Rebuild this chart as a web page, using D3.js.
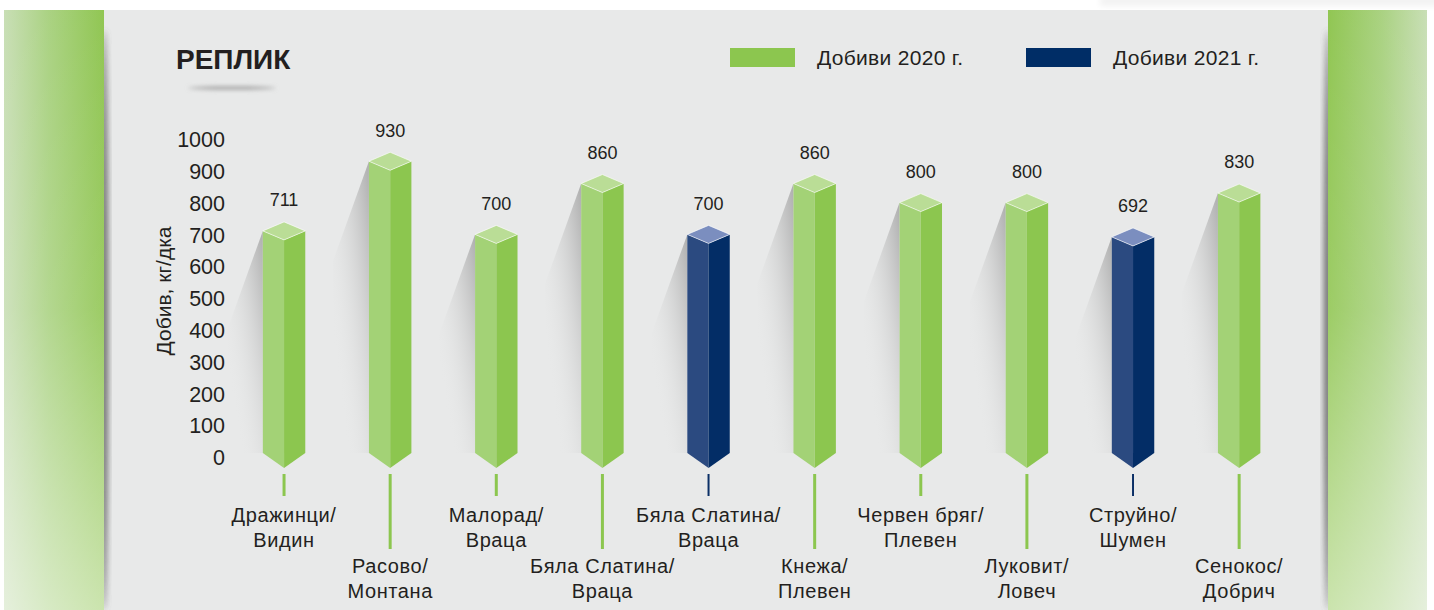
<!DOCTYPE html>
<html><head><meta charset="utf-8">
<script src="https://cdn.jsdelivr.net/npm/d3@7"></script>
<style>html,body{margin:0;padding:0;background:#fff;}svg{display:block;font-family:"Liberation Sans",Arial,sans-serif;}</style>
</head><body>
<script>
const categories = ["Дражинци/Видин","Расово/Монтана","Малорад/Враца","Бяла Слатина/Враца","Бяла Слатина/Враца","Кнежа/Плевен","Червен бряг/Плевен","Луковит/Ловеч","Струйно/Шумен","Сенокос/Добрич"];
const values = [711,930,700,860,700,860,800,800,692,830];
const years = [2020,2020,2020,2020,2021,2020,2020,2020,2021,2020];
const yTicks = [0,100,200,300,400,500,600,700,800,900,1000];
const legendLabels = ["Добиви 2020 г.","Добиви 2021 г."];
const title = "РЕПЛИК";
const yTitle = "Добив, кг/дка";

const W = 1434, H = 610;
const svg = d3.select("body").append("svg").attr("width", W).attr("height", H);
const defs = svg.append("defs");

const pal = {
  2020: {left:"#a3d276", right:"#8cc64f", top:"#badd96", line:"#8cc64f"},
  2021: {left:"#2b4a80", right:"#032d66", top:"#7b8ebf", line:"#0b2f66"}
};

function lg(id, x1,y1,x2,y2, stops){
  const g = defs.append("linearGradient").attr("id",id).attr("x1",x1).attr("y1",y1).attr("x2",x2).attr("y2",y2);
  stops.forEach(s=>g.append("stop").attr("offset",s[0]).attr("stop-color",s[1]).attr("stop-opacity",s[2]===undefined?1:s[2]));
}
lg("gLeft",1,0,0,0,[[0,"#8bc34a"],[0.55,"#a6d07c"],[1,"#c6ddb2"]]);
lg("gRight",0,0,1,0,[[0,"#8bc34a"],[0.55,"#a6d07c"],[1,"#c6ddb2"]]);
lg("gFade",0,0,0,1,[[0,"#ffffff",0.05],[0.5,"#ffffff",0.15],[1,"#ffffff",0.55]]);
lg("gShadow",1,0,0,1,[[0,"#9a9a9a",0.75],[0.35,"#b5b5b5",0.35],[0.8,"#e8e9e9",0]]);
defs.append("filter").attr("id","blur3").attr("x","-50%").attr("y","-50%").attr("width","200%").attr("height","200%")
  .append("feGaussianBlur").attr("stdDeviation",3);
defs.append("filter").attr("id","blur2").attr("x","-50%").attr("y","-200%").attr("width","200%").attr("height","500%")
  .append("feGaussianBlur").attr("stdDeviation",2);

// background panels
svg.append("rect").attr("x",1100).attr("y",-4).attr("width",340).attr("height",10).attr("fill","#000").attr("opacity",0.05).attr("filter","url(#blur3)");
svg.append("rect").attr("x",104).attr("y",10).attr("width",1224).attr("height",600).attr("fill","#e8e9e9");
svg.append("ellipse").attr("cx",104).attr("cy",320).attr("rx",4).attr("ry",290).attr("fill","#555").attr("opacity",0.85).attr("filter","url(#blur3)");
svg.append("ellipse").attr("cx",1328).attr("cy",320).attr("rx",4).attr("ry",290).attr("fill","#555").attr("opacity",0.85).attr("filter","url(#blur3)");
svg.append("rect").attr("x",4).attr("y",10).attr("width",100).attr("height",600).attr("fill","url(#gLeft)");
svg.append("rect").attr("x",4).attr("y",10).attr("width",100).attr("height",600).attr("fill","url(#gFade)");
svg.append("rect").attr("x",1328).attr("y",10).attr("width",99).attr("height",600).attr("fill","url(#gRight)");
svg.append("rect").attr("x",1328).attr("y",10).attr("width",99).attr("height",600).attr("fill","url(#gFade)");

// title
svg.append("ellipse").attr("cx",232).attr("cy",88).attr("rx",44).attr("ry",1.5).attr("fill","#999").attr("filter","url(#blur2)");
svg.append("text").attr("x",176).attr("y",69).attr("font-size",28).attr("font-weight","bold").attr("fill","#231f20").text(title);

// legend
const legX = [730, 1026];
[2020,2021].forEach((yr,i)=>{
  svg.append("rect").attr("x",legX[i]).attr("y",48).attr("width",65).attr("height",19).attr("fill", i===0?"#8cc64f":"#002d66");
  svg.append("text").attr("x",legX[i]+87).attr("y",58).attr("dy","0.35em").attr("font-size",21).attr("letter-spacing",0.3)
    .attr("fill","#231f20").text(legendLabels[i]);
});

// scales
const x = d3.scaleBand().domain(d3.range(categories.length)).range([241.6,1281.6]).paddingInner(0.6).paddingOuter(0.2);
const y = d3.scaleLinear().domain([0,1000]).range([457,139]);

// y axis
const ax = svg.append("g").attr("transform","translate(225,0)")
  .call(d3.axisLeft(y).tickValues(yTicks).tickSize(0).tickPadding(0).tickFormat(d3.format("d")));
ax.select(".domain").remove();
ax.selectAll("text").attr("font-size",21.5).attr("fill","#231f20").attr("font-family","Liberation Sans, Arial, sans-serif").attr("dy","0.36em");

svg.append("text").attr("transform","translate(171,291) rotate(-90)").attr("text-anchor","middle")
  .attr("font-size",21).attr("fill","#231f20").text(yTitle);

// bars
const baseCorner = 453, baseTip = 468, dz = 9;
const data = values.map((v,i)=>({i, v, yr: years[i], cat: categories[i]}));
const bars = svg.append("g").selectAll("g").data(data).join("g");
bars.each(function(d){
  const g = d3.select(this);
  const cx = x(d.i) + x.bandwidth()/2, w = x.bandwidth()/2, t = y(d.v), c = pal[d.yr];
  const L = cx - w, R = cx + w;
  g.append("polygon").attr("points", [[L,t],[L-36,t+100],[L-36,baseCorner],[L,baseCorner]].join(" ")).attr("fill","url(#gShadow)");
  g.append("polygon").attr("points", [[L,t],[cx,t+dz],[cx,baseTip],[L,baseCorner]].join(" ")).attr("fill",c.left);
  g.append("polygon").attr("points", [[cx,t+dz],[R,t],[R,baseCorner],[cx,baseTip]].join(" ")).attr("fill",c.right);
  g.append("polygon").attr("points", [[cx,t-dz],[L,t],[cx,t+dz],[R,t]].join(" ")).attr("fill",c.top)
    .attr("stroke","#ffffff").attr("stroke-opacity",0.6).attr("stroke-width",1);
  g.append("text").attr("x",cx).attr("y",t-31).attr("dy","0.35em").attr("text-anchor","middle")
    .attr("font-size",18).attr("fill","#231f20").text(d.v);
  const odd = d.i % 2 === 1;
  g.append("line").attr("x1",cx).attr("x2",cx).attr("y1",474).attr("y2", odd?549:496)
    .attr("stroke",c.line).attr("stroke-width", d.yr===2021?2:3);
  const parts = d.cat.split("/");
  const lines = [parts[0]+"/", parts[1]];
  const ty = odd ? 566 : 515;
  lines.forEach((s,k)=>{
    g.append("text").attr("x",cx).attr("y",ty+k*25).attr("dy","0.35em").attr("text-anchor","middle")
      .attr("font-size",20).attr("letter-spacing",0.6).attr("fill","#231f20").text(s);
  });
});
</script>
</body></html>
